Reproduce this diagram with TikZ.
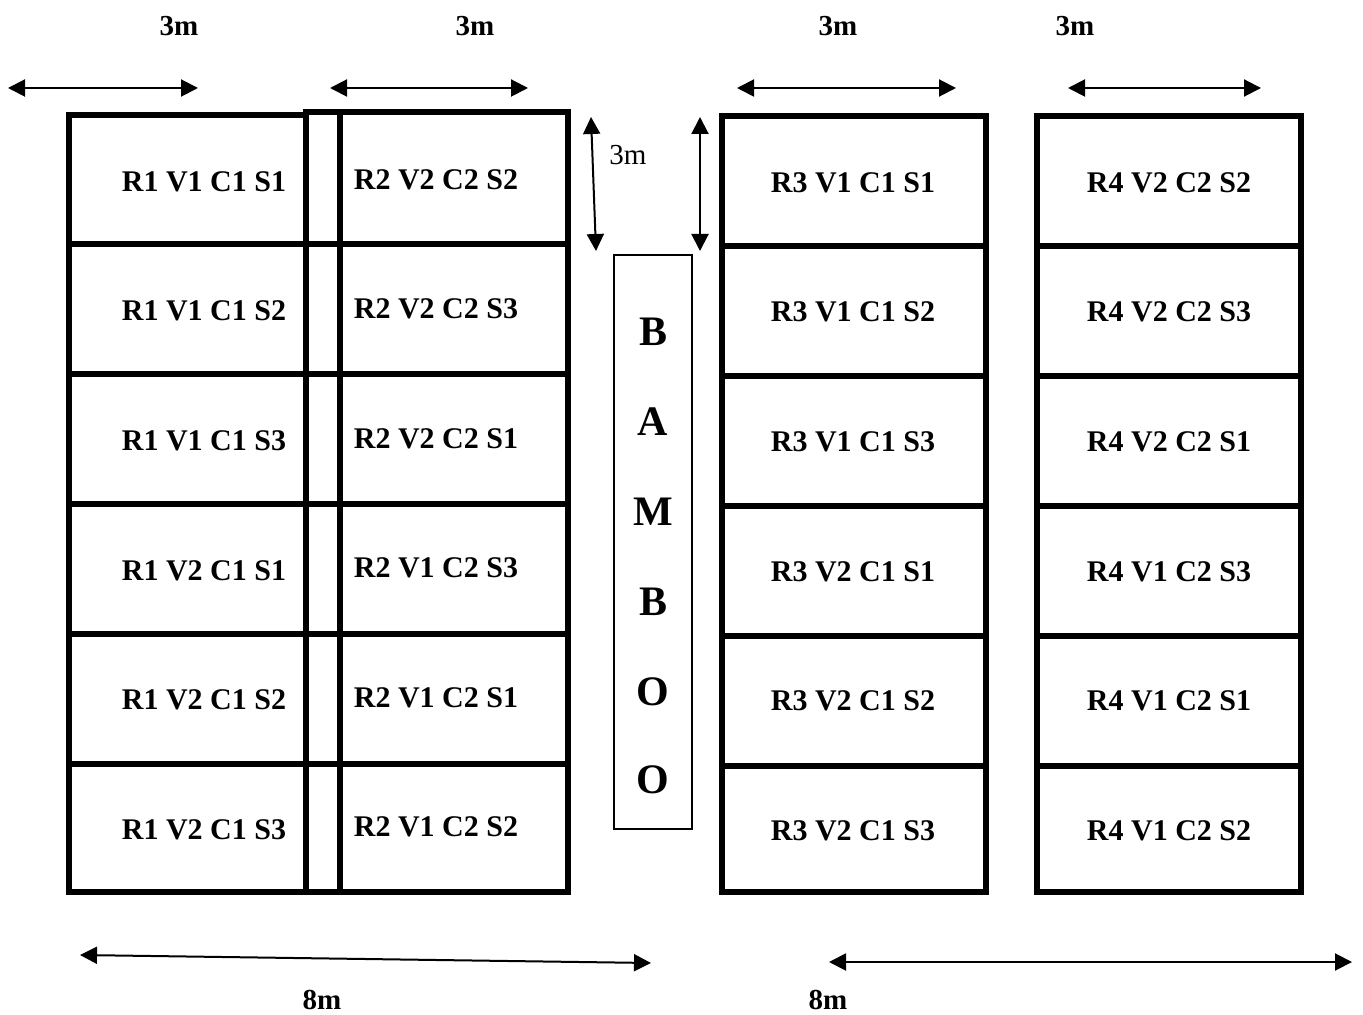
\documentclass[tikz,border=0pt]{standalone}
\usepackage{fontspec}
\setmainfont{Liberation Serif}
\usetikzlibrary{arrows.meta}
\begin{document}
\begin{tikzpicture}[x=0.5pt,y=-0.5pt,
  cell/.style={line width=2.6pt, line join=miter},
  lbl/.style={font=\bfseries\fontsize{15}{15}\selectfont, inner sep=0pt},
  dim/.style={line width=1pt, {Triangle[length=8.5pt,width=8.5pt]}-{Triangle[length=8.5pt,width=8.5pt]}},
  dimlbl/.style={font=\bfseries\fontsize{14.5}{14.5}\selectfont, inner sep=0pt},
  bam/.style={font=\bfseries\fontsize{21}{21}\selectfont, inner sep=0pt}]
\useasboundingbox[fill=white] (0,0) rectangle (1363,1015);

% ---- left block: R1 | strip | R2
\foreach \ya/\yb in {115/244,244/374,374/504,504/634,634/764,764/892}{
  \draw[cell] (69,\ya) rectangle (306,\yb);
}
\foreach \ya/\yb in {112/244,244/374,374/504,504/634,634/764,764/892}{
  \draw[cell] (306,\ya) rectangle (340,\yb);
  \draw[cell] (340,\ya) rectangle (568,\yb);
}
% ---- right block: R3 and R4
\foreach \ya/\yb in {116/246,246/376,376/506,506/636,636/766,766/892}{
  \draw[cell] (722,\ya) rectangle (986,\yb);
  \draw[cell] (1037,\ya) rectangle (1301,\yb);
}

% ---- cell labels
\node[lbl] (a1) at (204,182) {R1 V1 C1 S1};
\node[lbl] (a2) at (204,311) {R1 V1 C1 S2};
\node[lbl] (a3) at (204,441) {R1 V1 C1 S3};
\node[lbl] (a4) at (204,571) {R1 V2 C1 S1};
\node[lbl] (a5) at (204,700) {R1 V2 C1 S2};
\node[lbl] (a6) at (204,830) {R1 V2 C1 S3};

\node[lbl] (b1) at (436,180) {R2 V2 C2 S2};
\node[lbl] (b2) at (436,309) {R2 V2 C2 S3};
\node[lbl] (b3) at (436,439) {R2 V2 C2 S1};
\node[lbl] (b4) at (436,568) {R2 V1 C2 S3};
\node[lbl] (b5) at (436,698) {R2 V1 C2 S1};
\node[lbl] (b6) at (436,827) {R2 V1 C2 S2};

\node[lbl] (c1) at (853,183) {R3 V1 C1 S1};
\node[lbl] (c2) at (853,312) {R3 V1 C1 S2};
\node[lbl] (c3) at (853,442) {R3 V1 C1 S3};
\node[lbl] (c4) at (853,572) {R3 V2 C1 S1};
\node[lbl] (c5) at (853,701) {R3 V2 C1 S2};
\node[lbl] (c6) at (853,831) {R3 V2 C1 S3};

\node[lbl] (d1) at (1169,183) {R4 V2 C2 S2};
\node[lbl] (d2) at (1169,312) {R4 V2 C2 S3};
\node[lbl] (d3) at (1169,442) {R4 V2 C2 S1};
\node[lbl] (d4) at (1169,572) {R4 V1 C2 S3};
\node[lbl] (d5) at (1169,701) {R4 V1 C2 S1};
\node[lbl] (d6) at (1169,831) {R4 V1 C2 S2};

% ---- bamboo strip
\draw[line width=0.8pt] (614,255) rectangle (692,829);
\node[bam] (bm1) at (653,332) {B};
\node[bam] (bm2) at (653,422) {A};
\node[bam] (bm3) at (653,512) {M};
\node[bam] (bm4) at (653,602) {B};
\node[bam] (bm5) at (653,692) {O};
\node[bam] (bm6) at (653,780) {O};

% ---- top dimension arrows
\coordinate (t1a) at (8,88);    \coordinate (t1b) at (198,88);
\coordinate (t2a) at (330,88);  \coordinate (t2b) at (528,88);
\coordinate (t3a) at (737,88);  \coordinate (t3b) at (956,88);
\coordinate (t4a) at (1068,88); \coordinate (t4b) at (1261,88);
\draw[dim] (t1a) -- (t1b);
\draw[dim] (t2a) -- (t2b);
\draw[dim] (t3a) -- (t3b);
\draw[dim] (t4a) -- (t4b);
\node[dimlbl] (m1) at (179,26) {3m};
\node[dimlbl] (m2) at (475,26) {3m};
\node[dimlbl] (m3) at (838,26) {3m};
\node[dimlbl] (m4) at (1075,26) {3m};

% ---- vertical 3m arrows
\coordinate (v1a) at (591,117); \coordinate (v1b) at (596,251);
\coordinate (v2a) at (700,117); \coordinate (v2b) at (700,251);
\draw[dim] (v1a) -- (v1b);
\draw[dim] (v2a) -- (v2b);
\node[inner sep=0pt, font=\fontsize{14.5}{14.5}\selectfont] (m5) at (628,155) {3m};

% ---- bottom 8m arrows
\coordinate (h1a) at (80,955);  \coordinate (h1b) at (651,963);
\coordinate (h2a) at (829,962); \coordinate (h2b) at (1352,962);
\draw[dim] (h1a) -- (h1b);
\draw[dim] (h2a) -- (h2b);
\node[dimlbl] (e1) at (322,1000) {8m};
\node[dimlbl] (e2) at (828,1000) {8m};
\end{tikzpicture}
\end{document}
